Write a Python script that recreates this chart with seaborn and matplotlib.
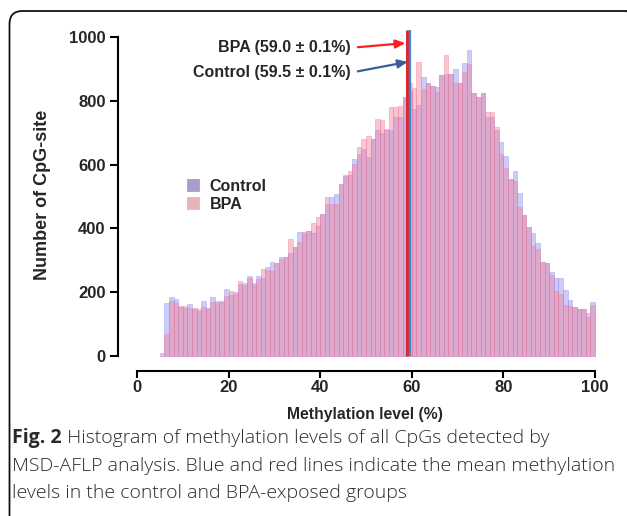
import numpy as np
import pandas as pd
import matplotlib
matplotlib.use("Agg")
import matplotlib.pyplot as plt
from matplotlib.colors import to_rgb
from matplotlib.patches import FancyBboxPatch
import seaborn as sns

# 1 % methylation bins, left edges 5..99
bin_left = list(range(5, 100))

control_counts = [
    10, 167, 184, 178, 155, 152, 163, 148, 140, 172,
    150, 184, 172, 168, 209, 190, 200, 225, 230, 250,
    228, 252, 245, 280, 296, 293, 311, 309, 324, 341,
    388, 385, 392, 387, 408, 445, 476, 497, 508, 539,
    564, 567, 617, 633, 648, 623, 679, 708, 700, 710,
    710, 748, 750, 813, 830, 775, 787, 876, 855, 846,
    842, 881, 883, 885, 899, 855, 920, 959, 826, 811,
    825, 748, 748, 708, 672, 627, 554, 581, 510, 442,
    403, 385, 353, 296, 293, 263, 243, 243, 207, 175,
    153, 146, 148, 136, 168,
]
bpa_counts = [
    0, 69, 173, 167, 158, 157, 152, 149, 146, 155,
    147, 170, 167, 172, 188, 205, 195, 235, 222, 245,
    223, 240, 272, 270, 267, 293, 303, 309, 366, 341,
    358, 390, 392, 416, 435, 445, 499, 476, 476, 539,
    566, 581, 602, 654, 679, 690, 679, 742, 740, 712,
    782, 782, 783, 813, 857, 839, 923, 836, 855, 846,
    829, 881, 944, 885, 855, 857, 889, 915, 826, 811,
    825, 766, 766, 717, 633, 588, 554, 550, 466, 442,
    403, 345, 334, 296, 293, 254, 205, 194, 160, 157,
    153, 146, 146, 121, 160,
]

groups = ["Control", "BPA"]
mean_level = {"Control": 59.5, "BPA": 59.0}
mean_sd = {"Control": 0.1, "BPA": 0.1}

x_ticks = [0, 20, 40, 60, 80, 100]
y_ticks = [0, 200, 400, 600, 800, 1000]

caption_bold = "Fig. 2"
caption_lines = [
    " Histogram of methylation levels of all CpGs detected by",
    "MSD-AFLP analysis. Blue and red lines indicate the mean methylation",
    "levels in the control and BPA-exposed groups",
]

df = pd.DataFrame({
    "level": np.array(bin_left * 2, dtype=float) + 0.5,
    "count": control_counts + bpa_counts,
    "group": ["Control"] * len(bin_left) + ["BPA"] * len(bin_left),
})

sns.set_theme(style="ticks")
plt.rcParams["font.family"] = ["Liberation Sans", "DejaVu Sans"]
plt.rcParams["font.weight"] = "bold"

fig = plt.figure(figsize=(6.27, 5.16), dpi=100)
ax = fig.add_axes([130 / 627, 1 - 360 / 516, 470 / 627, 330 / 516])

palette = {"Control": "#8f8ff2", "BPA": "#f07f9a"}
sns.histplot(
    data=df, x="level", weights="count", hue="group", hue_order=groups,
    binwidth=1, binrange=(5, 100), palette=palette, alpha=0.45,
    element="bars", multiple="layer", linewidth=0.6, ax=ax,
)
bpa_rgb = np.array(to_rgb(palette["BPA"]))
for patch in ax.patches:
    patch.set_edgecolor(patch.get_facecolor())
    if np.allclose(patch.get_facecolor()[:3], bpa_rgb, atol=0.02):
        patch.set_zorder(1.2)   # red layer on top, as in the figure

ax.set_xlim(-7 * 100 / 458, 100 + 5 * 100 / 458)
ax.set_ylim(-4 * 1000 / 319, 1000 + 7 * 1000 / 319)

# mean lines
line_col = {"Control": "#3b86cf", "BPA": "#d42a35"}
for g, lw in [("BPA", 2.2), ("Control", 1.6)]:
    ax.vlines(mean_level[g], 0, ax.get_ylim()[1], color=line_col[g], lw=lw, zorder=5)

arrow_col = {"BPA": "#ff1f1f", "Control": "#35609a"}
label_pos = {"BPA": (46.6, 966, 981), "Control": (46.6, 888, 922)}
for g in ["BPA", "Control"]:
    tx, ty, hy = label_pos[g]
    ax.annotate(
        f"{g} ({mean_level[g]:.1f} \u00b1 {mean_sd[g]:.1f}%)",
        xy=(mean_level[g] - 0.4, hy), xytext=(tx, ty),
        ha="right", va="center", fontsize=11.5, fontweight="bold",
        arrowprops=dict(arrowstyle="-|>,head_length=0.5,head_width=0.22",
                        color=arrow_col[g], lw=1.6, relpos=(1, 0.5),
                        shrinkA=3, shrinkB=0),
    )

ax.set_xticks(x_ticks)
ax.set_yticks(y_ticks)
ax.tick_params(axis="both", labelsize=12, width=1.5, color="black")
ax.tick_params(axis="x", length=5, pad=1.5)
ax.tick_params(axis="y", length=5.5, pad=3.5)
ax.set_xlabel("Methylation level (%)", fontsize=11.3, fontweight="bold", labelpad=9)
ax.set_ylabel("Number of CpG-site", fontsize=13, fontweight="bold", labelpad=13)

sns.despine(ax=ax, offset={"left": 8.6, "bottom": 7.9})
ax.spines["left"].set_bounds(0, 1000)
ax.spines["bottom"].set_bounds(0, 100)
for side in ["left", "bottom"]:
    ax.spines[side].set_linewidth(1.5)
    ax.spines[side].set_color("black")

sns.move_legend(ax, loc="upper left", bbox_to_anchor=(0.09, 0.593),
                title=None, frameon=False, fontsize=11.5,
                handlelength=0.75, handleheight=0.75, labelspacing=0.2,
                handletextpad=0.7)
leg = ax.get_legend()
for t in leg.get_texts():
    t.set_fontweight("bold")
# legend swatches look like the blended bar colours in the figure
swatch = {"Control": "#ab9ccf", "BPA": "#e9b4b9"}
for h, t in zip(leg.legend_handles, leg.get_texts()):
    h.set_facecolor(swatch[t.get_text()])
    h.set_edgecolor(swatch[t.get_text()])
    h.set_alpha(1)

# rounded figure frame
frame = FancyBboxPatch((0.095, -0.3), 6.30, 5.35, transform=fig.dpi_scale_trans,
                       boxstyle="round,pad=0,rounding_size=0.13",
                       facecolor="none", edgecolor="#111111", lw=1.3)
fig.add_artist(frame)

# caption
cap_font = ["Open Sans", "DejaVu Sans"]
cap_size = 14
fig.canvas.draw()
renderer = fig.canvas.get_renderer()
x0 = 12 / 627
ys = [1 - 438 / 516, 1 - 466 / 516, 1 - 493 / 516]
bold = fig.text(x0, ys[0], caption_bold, fontsize=cap_size, fontweight="bold",
                family=cap_font, color="#2a2a2a", va="center")
bb = bold.get_window_extent(renderer)
fig.text(bb.x1 / fig.bbox.width, ys[0], caption_lines[0], fontsize=cap_size,
         fontweight="light", family=cap_font, color="#2a2a2a", va="center")
for line, y in zip(caption_lines[1:], ys[1:]):
    fig.text(x0, y, line, fontsize=cap_size, fontweight="light",
             family=cap_font, color="#2a2a2a", va="center")

fig.savefig("out.png", dpi=100)
